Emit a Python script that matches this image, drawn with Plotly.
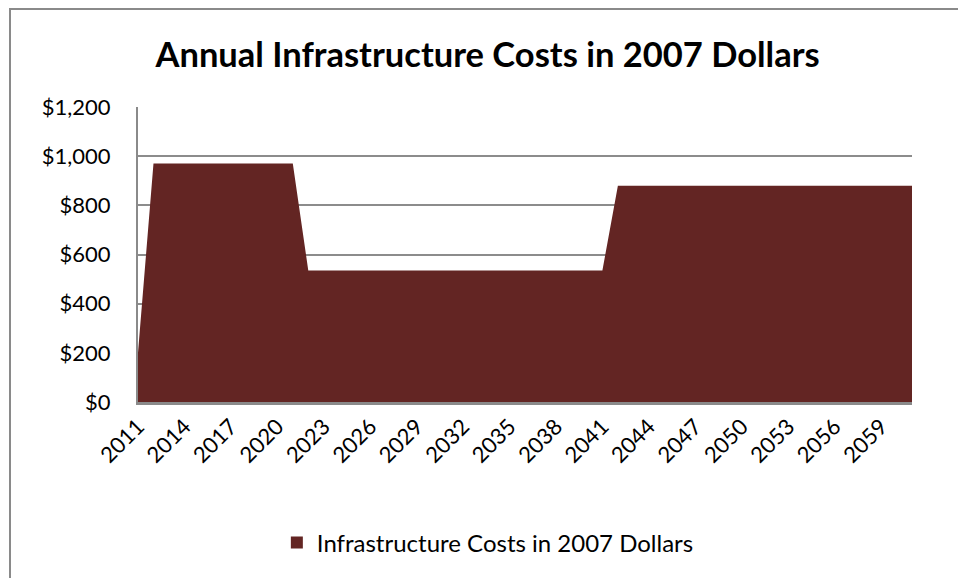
import plotly.graph_objects as go

years = [2011, 2012, 2013, 2014, 2015, 2016, 2017, 2018, 2019, 2020,
         2021, 2022, 2023, 2024, 2025, 2026, 2027, 2028, 2029, 2030,
         2031, 2032, 2033, 2034, 2035, 2036, 2037, 2038, 2039, 2040,
         2041, 2042, 2043, 2044, 2045, 2046, 2047, 2048, 2049, 2050,
         2051, 2052, 2053, 2054, 2055, 2056, 2057, 2058, 2059, 2060,
         2061]
costs = [200, 970, 970, 970, 970, 970, 970, 970, 970, 970,
         970, 535, 535, 535, 535, 535, 535, 535, 535, 535,
         535, 535, 535, 535, 535, 535, 535, 535, 535, 535,
         535, 880, 880, 880, 880, 880, 880, 880, 880, 880,
         880, 880, 880, 880, 880, 880, 880, 880, 880, 880,
         880]
tick_years = years[::3]
y_ticks = [0, 200, 400, 600, 800, 1000, 1200]
y_labels = ["$0", "$200", "$400", "$600", "$800", "$1,000", "$1,200"]

series_name = "Infrastructure Costs in 2007 Dollars"
title_text = "Annual Infrastructure Costs in 2007 Dollars"

FONT = "Lato"
fig = go.Figure()
fig.add_trace(go.Scatter(
    x=years, y=costs, name=series_name, mode="lines",
    line=dict(width=0, color="#632523"), fill="tozeroy",
    fillcolor="#632523", showlegend=False,
))
# legend entry as square marker
fig.add_trace(go.Scatter(
    x=[None], y=[None], name=series_name, mode="markers",
    marker=dict(symbol="square", size=15, color="#632523"),
))

fig.update_layout(
    width=958, height=578,
    margin=dict(l=138, r=46, t=107, b=176),
    paper_bgcolor="white", plot_bgcolor="white",
    title=dict(text="<b>" + title_text + "</b>", x=0.509, xanchor="center",
               y=0.905, yanchor="middle",
               font=dict(family=FONT, size=34.5, color="black")),
    font=dict(family=FONT, color="black"),
    showlegend=True,
    legend=dict(orientation="h", x=0.452, xanchor="center", y=-0.478,
                yanchor="middle", font=dict(size=24, family=FONT),
                itemsizing="constant", itemwidth=30),
    xaxis=dict(
        range=[2011, 2061], tickmode="array", tickvals=tick_years,
        ticktext=[str(v) for v in tick_years], tickangle=-45,
        tickfont=dict(size=22, family=FONT),
        showgrid=False, zeroline=False, showline=True,
        linecolor="#8a8a8a", linewidth=3, ticks="",
    ),
    yaxis=dict(
        range=[0, 1200], tickmode="array", tickvals=y_ticks,
        ticktext=y_labels, tickfont=dict(size=22, family=FONT),
        showgrid=True, gridcolor="#8c8c8c", gridwidth=1.5,
        zeroline=False, showline=True, linecolor="#8a8a8a", linewidth=2,
        ticks="", ticklabelstandoff=21, layer="below traces",
    ),
)

# outer chart border
fig.add_shape(type="rect", xref="paper", yref="paper",
              x0=(10 - 138) / 774, x1=1.2, y0=-1.0, y1=(402 - 9) / 295,
              line=dict(color="#8a8a8a", width=2), fillcolor="rgba(0,0,0,0)")

fig.write_html("out.html")
